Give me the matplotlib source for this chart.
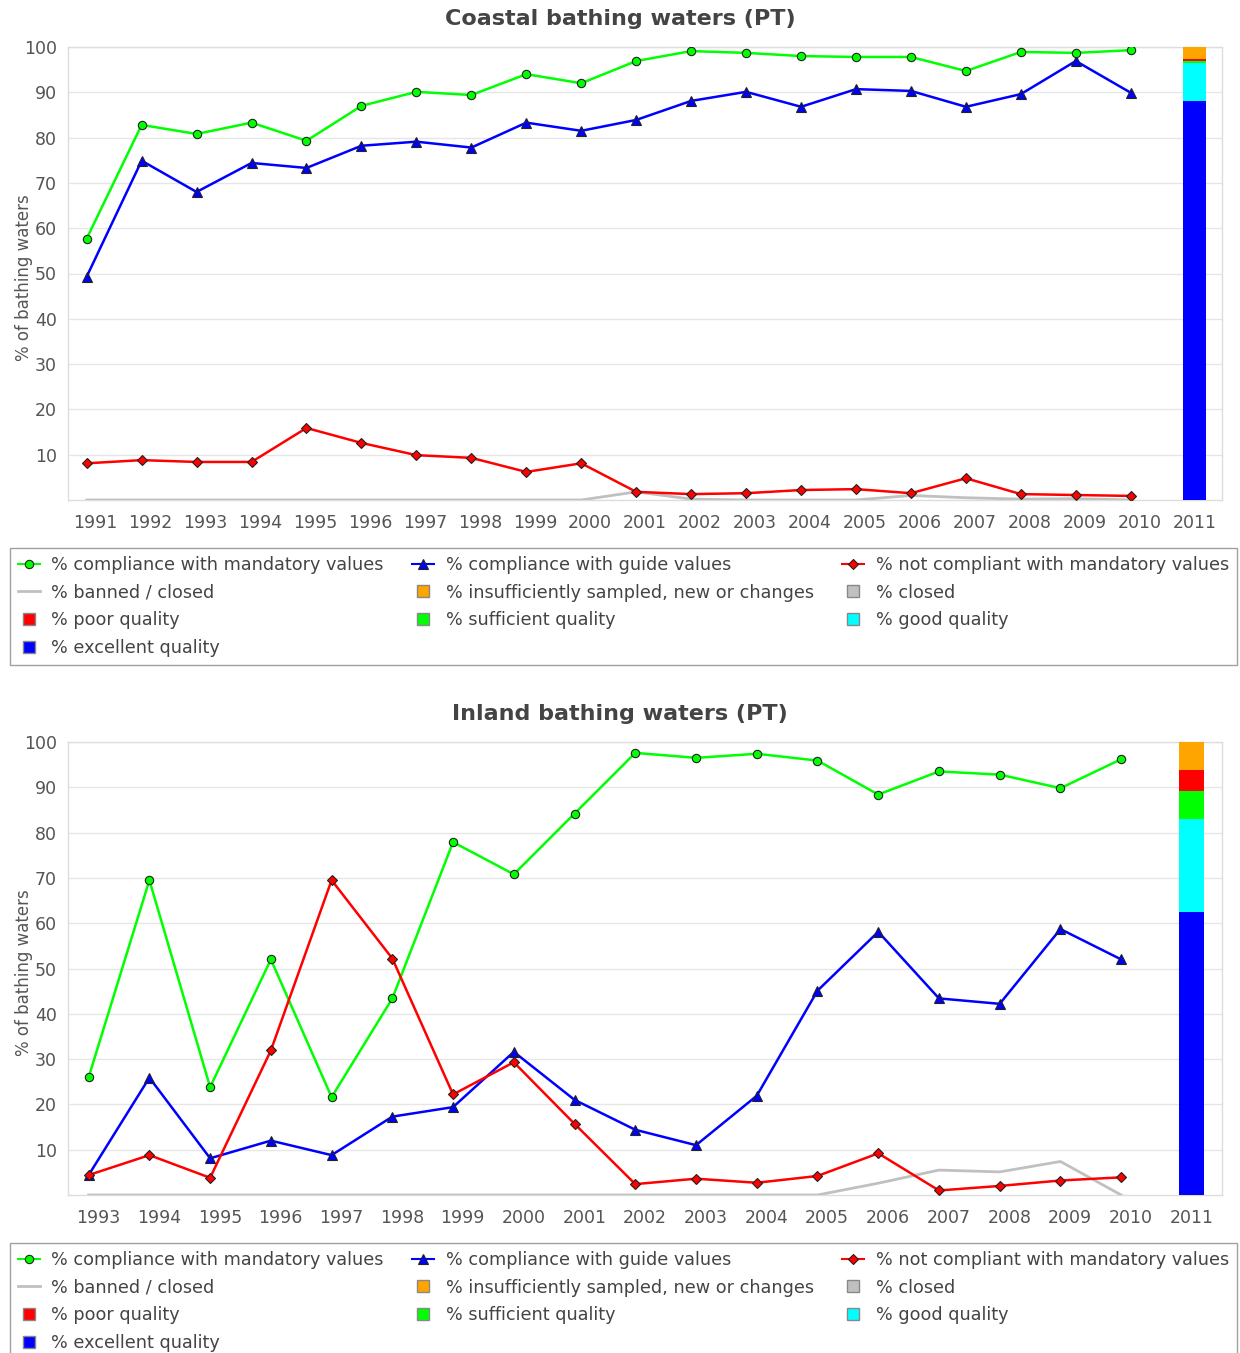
import matplotlib
matplotlib.use("Agg")
import matplotlib.pyplot as plt
from matplotlib.lines import Line2D

# Coastal bathing waters (PT)
coastal_years = ['1991', '1992', '1993', '1994', '1995', '1996', '1997', '1998', '1999', '2000',
                 '2001', '2002', '2003', '2004', '2005', '2006', '2007', '2008', '2009', '2010', '2011']
coastal_mandatory = [57.7, 82.8, 80.8, 83.3, 79.3, 87.0, 90.1, 89.4, 94.0, 92.0,
                     96.9, 99.1, 98.7, 98.0, 97.8, 97.8, 94.7, 98.9, 98.7, 99.3]
coastal_guide = [49.3, 74.9, 68.0, 74.4, 73.3, 78.2, 79.1, 77.8, 83.3, 81.5,
                 83.9, 88.1, 90.1, 86.8, 90.7, 90.3, 86.8, 89.6, 96.9, 89.9]
coastal_not_compliant = [8.1, 8.8, 8.4, 8.4, 15.9, 12.6, 9.9, 9.3, 6.2, 8.1,
                         1.8, 1.3, 1.5, 2.2, 2.4, 1.5, 4.8, 1.3, 1.1, 0.9]
coastal_banned = [0, 0, 0, 0, 0, 0, 0, 0, 0, 0,
                  1.8, 0.2, 0, 0, 0, 1.0, 0.5, 0.2, 0.3, 0]
# 2011 bar: excellent, good, sufficient, poor, closed, insufficient
coastal_2011 = [88.1, 8.3, 0.6, 0.4, 0.0, 2.6]

# Inland bathing waters (PT)
inland_years = ['1993', '1994', '1995', '1996', '1997', '1998', '1999', '2000', '2001', '2002',
                '2003', '2004', '2005', '2006', '2007', '2008', '2009', '2010', '2011']
inland_mandatory = [26.0, 69.5, 23.8, 52.0, 21.6, 43.4, 77.9, 70.8, 84.2, 97.6,
                    96.5, 97.4, 95.9, 88.4, 93.5, 92.8, 89.8, 96.2]
inland_guide = [4.4, 25.9, 8.1, 12.0, 8.8, 17.3, 19.4, 31.6, 21.0, 14.4,
                11.0, 21.9, 45.1, 58.1, 43.4, 42.2, 58.7, 52.0]
inland_not_compliant = [4.4, 8.8, 3.8, 31.9, 69.5, 52.2, 22.2, 29.3, 15.7, 2.4,
                        3.6, 2.7, 4.2, 9.2, 1.0, 2.0, 3.2, 3.9]
inland_banned = [0, 0, 0, 0, 0, 0, 0, 0, 0, 0,
                 0, 0, 0, 2.6, 5.5, 5.1, 7.4, 0]
inland_2011 = [62.5, 20.5, 6.2, 4.7, 0.0, 6.1]

bar_colors = ['#0000ff', '#00ffff', '#00ff00', '#ff0000', '#c0c0c0', '#ffa500']
yticks = [10, 20, 30, 40, 50, 60, 70, 80, 90, 100]

plt.rcParams['font.family'] = ['DejaVu Sans']
fig = plt.figure(figsize=(12.4, 13.53), dpi=100)
W, H = 1240.0, 1353.0


def draw_panel(top_px, title, years, mandatory, guide, not_compliant, banned, bar_vals):
    ax = fig.add_axes([68 / W, 1 - (top_px + 453) / H, 1154 / W, 453 / H])
    # line points sit a little left of the year labels in the original
    x = [i - 0.16 for i in range(len(years) - 1)]
    ax.plot(x, banned, color='#c0c0c0', lw=2, zorder=3)
    ax.plot(x, guide, color='#0000ff', lw=1.8, marker='^', ms=7,
            mfc='#0000ff', mec='#222222', mew=0.8, zorder=4)
    ax.plot(x, mandatory, color='#00ff00', lw=1.8, marker='o', ms=6,
            mfc='#00ff00', mec='#222222', mew=0.8, zorder=4)
    ax.plot(x, not_compliant, color='#ff0000', lw=1.8, marker='D', ms=5.5,
            mfc='#ff0000', mec='#222222', mew=0.8, zorder=5)
    # stacked bar for the last year
    bx = len(years) - 1
    bottom = 0
    for v, c in zip(bar_vals, bar_colors):
        ax.bar(bx, v, bottom=bottom, width=0.42, color=c, lw=0, zorder=3)
        bottom += v

    ax.set_xlim(-0.5, len(years) - 0.5)
    ax.set_ylim(0, 100)
    ax.set_xticks(range(len(years)))
    ax.set_xticklabels(years)
    ax.set_yticks(yticks)
    ax.grid(axis='y', color='#e6e6e6', lw=1, zorder=0)
    ax.set_axisbelow(True)
    for s in ax.spines.values():
        s.set_color('#dddddd')
        s.set_linewidth(1)
    ax.tick_params(length=0, labelsize=12.5, colors='#555555')
    ax.tick_params(axis='x', pad=10)
    ax.tick_params(axis='y', pad=8)
    ax.set_ylabel('% of bathing waters', fontsize=12, color='#555555')
    ax.yaxis.set_label_coords(-0.030, 0.49)
    # title is centred on the whole figure, not on the plot area
    fig.text(0.5, 1 - (top_px - 28) / H, title, ha='center', va='center',
             fontsize=16, fontweight='bold', color='#444444')

    handles = [
        Line2D([], [], color='#00ff00', lw=1.5, marker='o', ms=6, mfc='#00ff00', mec='#222222', mew=0.8),
        Line2D([], [], color='#c0c0c0', lw=2),
        Line2D([], [], ls='none', marker='s', ms=9, mfc='#ff0000', mec='#888888'),
        Line2D([], [], ls='none', marker='s', ms=9, mfc='#0000ff', mec='#888888'),
        Line2D([], [], color='#0000ff', lw=1.5, marker='^', ms=7, mfc='#0000ff', mec='#222222', mew=0.8),
        Line2D([], [], ls='none', marker='s', ms=9, mfc='#ffa500', mec='#888888'),
        Line2D([], [], ls='none', marker='s', ms=9, mfc='#00ff00', mec='#888888'),
        Line2D([], [], color='#ff0000', lw=1.5, marker='D', ms=5.5, mfc='#ff0000', mec='#222222', mew=0.8),
        Line2D([], [], ls='none', marker='s', ms=9, mfc='#c0c0c0', mec='#888888'),
        Line2D([], [], ls='none', marker='s', ms=9, mfc='#00ffff', mec='#888888'),
    ]
    labels = [
        '% compliance with mandatory values', '% banned / closed', '% poor quality',
        '% excellent quality', '% compliance with guide values',
        '% insufficiently sampled, new or changes', '% sufficient quality',
        '% not compliant with mandatory values', '% closed', '% good quality',
    ]
    leg_top = top_px + 501
    leg = fig.legend(handles, labels, ncol=3, loc='upper left',
                     bbox_to_anchor=(10 / W, 1 - leg_top / H, 1227 / W, 0),
                     mode='expand', fontsize=12.7, frameon=True, fancybox=False,
                     edgecolor='#888888', handlelength=1.25, handletextpad=0.65,
                     labelspacing=0.55, borderpad=0.45, borderaxespad=0)
    leg.get_frame().set_linewidth(1)
    for t in leg.get_texts():
        t.set_color('#444444')
    return ax


draw_panel(47, 'Coastal bathing waters (PT)', coastal_years, coastal_mandatory,
           coastal_guide, coastal_not_compliant, coastal_banned, coastal_2011)
draw_panel(742, 'Inland bathing waters (PT)', inland_years, inland_mandatory,
           inland_guide, inland_not_compliant, inland_banned, inland_2011)

fig.savefig('out.png', dpi=100)
